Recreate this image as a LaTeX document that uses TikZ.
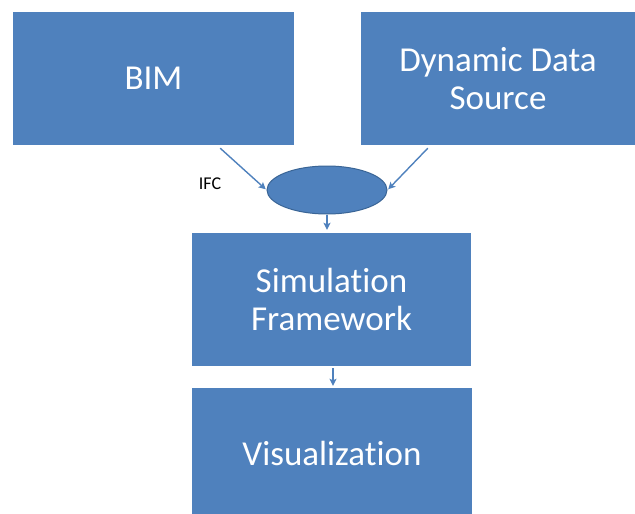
\documentclass[tikz,border=0pt]{standalone}
\usepackage{fontspec}
\setmainfont{Carlito}[Ligatures={NoCommon}]
\usetikzlibrary{shapes.geometric,arrows.meta}
\definecolor{boxblue}{HTML}{4F81BD}
\definecolor{edgeblue}{HTML}{3A6596}
\tikzset{
  block/.style={rectangle, fill=boxblue, draw=none, text=white, align=center,
    font=\fontsize{35}{38.5}\selectfont, inner sep=0pt},
  link/.style={draw=boxblue, line width=1.4pt,
    -{Stealth[length=7pt,width=7pt,inset=1.5pt]}},
}
\begin{document}
\begin{tikzpicture}[x=1pt,y=-1pt]
  \clip (0,0) rectangle (635,514);
  \useasboundingbox (0,0) rectangle (635,514);

  % source blocks
  \node[block, minimum width=281pt, minimum height=133pt] (bim) at (153.5,78.5) {BIM};
  \node[block, minimum width=274pt, minimum height=133pt] (dds) at (498,78.5) {Dynamic Data\\Source};

  % exchange format
  \node[ellipse, fill=boxblue, draw=edgeblue, line width=1pt,
        minimum width=120pt, minimum height=48pt, inner sep=0pt] (ifc) at (327,190) {};
  \node[font=\fontsize{18}{20}\selectfont, text=black] (ifclabel) at (210,184) {IFC};

  % processing chain
  \node[block, minimum width=279pt, minimum height=133pt] (sim) at (331.5,299.5) {Simulation\\Framework};
  \node[block, minimum width=280pt, minimum height=133pt] (vis) at (332,454.5) {};
  \node[text=white, font=\fontsize{35}{38.5}\selectfont, inner sep=0pt] (vislabel) at (332,453) {Visualization};

  % connectors
  \draw[link, shorten >=1pt] ([shift={(-74,3)}]bim.south east) -- (ifc.west);
  \draw[link, shorten >=1pt] ([shift={(67,3)}]dds.south west) -- (ifc.east);
  \draw[link, shorten >=3pt] (ifc.south) -- (ifc.south |- sim.north);
  \draw[link, shorten <=2pt, shorten >=2pt] ([xshift=1.5pt]sim.south) -- ([xshift=1.5pt]sim.south |- vis.north);
\end{tikzpicture}
\end{document}
